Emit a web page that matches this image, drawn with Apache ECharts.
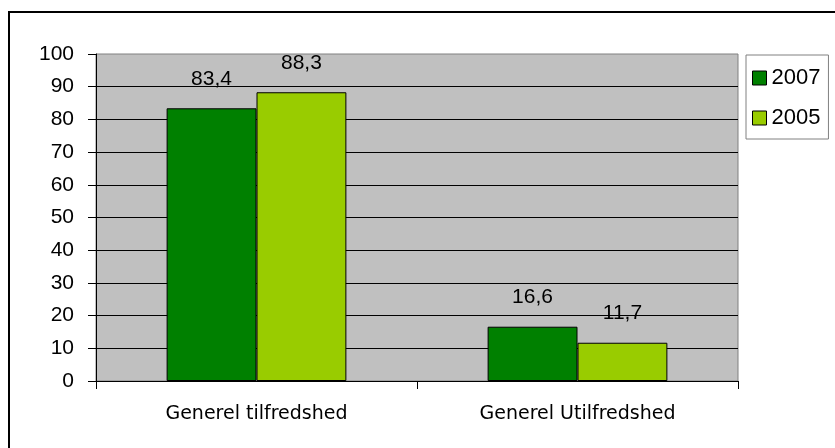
<!DOCTYPE html>
<html>
<head>
<meta charset="utf-8">
<script src="https://cdn.jsdelivr.net/npm/echarts@6/dist/echarts.min.js"></script>
<style>
  html, body { margin: 0; padding: 0; background: #fff; }
  #chart { width: 835px; height: 448px; }
</style>
</head>
<body>
<div id="chart"></div>
<script>
var categories = ['Generel tilfredshed', 'Generel Utilfredshed']
var years = ['2007', '2005']
var values2007 = [83.4, 16.6]
var values2005 = [88.3, 11.7]
var yTicks = [0, 10, 20, 30, 40, 50, 60, 70, 80, 90, 100]

var chart = echarts.init(document.getElementById('chart'))

function barSeries(name, data, color) {
  return {
    name: name,
    type: 'bar',
    data: data,
    barGap: '0%',
    barCategoryGap: '44%',
    itemStyle: {
      color: color,
      borderColor: '#000',
      borderWidth: 1
    },
    label: {
      show: true,
      position: 'top',
      distance: 19,
      color: '#000',
      fontFamily: 'Liberation Sans',
      fontSize: 21,
      formatter: function (p) {
        return String(p.value).replace('.', ',')
      }
    },
    animation: false
  }
}

chart.setOption({
  backgroundColor: '#fff',
  graphic: [{
    type: 'rect',
    shape: { x: 9, y: 12, width: 840, height: 450 },
    style: { fill: 'none', stroke: '#000', lineWidth: 2 },
    z: -10
  }],
  grid: {
    left: 96,
    right: 97,
    top: 54,
    bottom: 67,
    show: true,
    backgroundColor: '#C0C0C0',
    borderColor: '#808080',
    borderWidth: 1
  },
  legend: {
    orient: 'vertical',
    left: 746,
    top: 55,
    padding: [12, 8, 10, 6],
    itemWidth: 14,
    itemHeight: 14,
    itemGap: 18,
    borderColor: '#808080',
    borderWidth: 1,
    icon: 'rect',
    itemStyle: { borderColor: '#000', borderWidth: 1 },
    textStyle: {
      fontFamily: 'Liberation Sans',
      fontSize: 22,
      color: '#000'
    },
    data: years
  },
  xAxis: {
    type: 'category',
    data: categories,
    axisLine: { lineStyle: { color: '#000', width: 1 } },
    axisTick: { show: true, length: 8, lineStyle: { color: '#000' } },
    axisLabel: {
      margin: 24,
      color: '#000',
      fontFamily: 'DejaVu Sans',
      fontSize: 19
    }
  },
  yAxis: {
    type: 'value',
    min: yTicks[0],
    max: yTicks[yTicks.length - 1],
    interval: 10,
    axisLine: { show: true, lineStyle: { color: '#000', width: 1 } },
    axisTick: { show: true, length: 8, lineStyle: { color: '#000' } },
    axisLabel: {
      margin: 22,
      color: '#000',
      fontFamily: 'Liberation Sans',
      fontSize: 21
    },
    splitLine: {
      show: true,
      showMaxLine: false,
      lineStyle: { color: '#000', width: 1 }
    }
  },
  series: [
    barSeries(years[0], values2007, '#008000'),
    barSeries(years[1], values2005, '#99CC00')
  ]
})
</script>
</body>
</html>
